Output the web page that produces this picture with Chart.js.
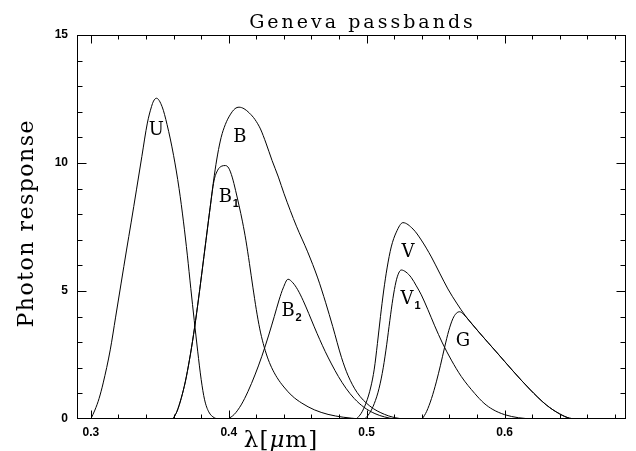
<!DOCTYPE html>
<html>
<head>
<meta charset="utf-8">
<title>Geneva passbands</title>
<script src="https://cdn.jsdelivr.net/npm/chart.js@4.4.1/dist/chart.umd.min.js"></script>
<style>
    html, body { margin: 0; padding: 0; background: #fff; }
    #wrap { width: 636px; height: 451px; position: relative; }
</style>
</head>
<body>
<div id="wrap"><canvas id="passbands-chart"></canvas></div>
<script>
// passband curves: wavelength (micron) vs photon response
var uX = [0.300, 0.303, 0.306, 0.309, 0.3141, 0.318, 0.322, 0.3259, 0.3292, 0.3331, 0.337, 0.341, 0.344, 0.3455, 0.3476, 0.3517, 0.3553, 0.3600, 0.3640, 0.3672, 0.3700, 0.3725, 0.3750, 0.3775, 0.3800, 0.3825, 0.3855, 0.3895, 0.3930];
var uY = [0, 0.35, 0.80, 1.41, 2.70, 3.98, 5.31, 6.60, 7.66, 8.95, 10.25, 11.56, 12.20, 12.42, 12.53, 12.20, 11.50, 10.30, 9.00, 7.70, 6.40, 5.10, 3.85, 2.65, 1.55, 0.75, 0.28, 0.05, 0];

var bX = [0.3596, 0.3625, 0.3655, 0.3685, 0.3715, 0.3745, 0.3775, 0.3805, 0.3835, 0.3865, 0.3895, 0.3920, 0.3945, 0.3975, 0.4010, 0.4045, 0.4075, 0.4111, 0.4150, 0.4190, 0.4230, 0.4270, 0.4314, 0.4360, 0.4401, 0.4491, 0.4572, 0.4645, 0.4703, 0.4754, 0.4817, 0.4864, 0.4930, 0.5022, 0.5130, 0.5239, 0.5312];
var bY = [0, 0.30, 0.80, 1.45, 2.30, 3.30, 4.45, 5.70, 6.98, 8.25, 9.50, 10.35, 11.00, 11.50, 11.88, 12.12, 12.18, 12.12, 11.95, 11.70, 11.33, 10.78, 10.10, 9.45, 8.80, 7.53, 6.53, 5.51, 4.54, 3.61, 2.41, 1.71, 1.04, 0.51, 0.18, 0.02, 0];

var b1X = [0.3596, 0.3625, 0.3655, 0.3685, 0.3715, 0.3745, 0.3775, 0.3805, 0.3835, 0.3865, 0.3893, 0.3920, 0.3950, 0.3976, 0.4000, 0.4025, 0.4050, 0.4075, 0.4100, 0.4125, 0.4150, 0.4175, 0.4200, 0.4225, 0.4250, 0.4280, 0.4310, 0.4350, 0.4400, 0.4460, 0.4530, 0.4620, 0.4720, 0.4830, 0.4950];
var b1Y = [0, 0.30, 0.80, 1.45, 2.30, 3.30, 4.45, 5.70, 6.98, 8.25, 9.30, 9.72, 9.88, 9.90, 9.80, 9.45, 8.92, 8.33, 7.70, 6.96, 6.08, 5.15, 4.27, 3.52, 2.95, 2.42, 2.02, 1.62, 1.25, 0.90, 0.62, 0.36, 0.18, 0.07, 0];

var b2X = [0.3995, 0.4040, 0.4090, 0.4140, 0.4190, 0.4240, 0.4290, 0.4330, 0.4365, 0.4395, 0.4430, 0.4465, 0.4500, 0.4540, 0.4580, 0.4620, 0.4660, 0.4700, 0.4745, 0.4795, 0.4850, 0.4910, 0.4980, 0.5060, 0.5130, 0.5200];
var b2Y = [0, 0.18, 0.55, 1.08, 1.72, 2.45, 3.28, 4.00, 4.65, 5.12, 5.46, 5.32, 5.05, 4.62, 4.12, 3.60, 3.10, 2.63, 2.15, 1.66, 1.20, 0.80, 0.46, 0.21, 0.08, 0];

var vX = [0.4925, 0.4960, 0.4995, 0.5030, 0.5055, 0.5078, 0.5100, 0.5123, 0.5148, 0.5178, 0.5215, 0.5263, 0.5336, 0.5396, 0.5469, 0.5529, 0.5589, 0.5652, 0.5717, 0.5819, 0.5940, 0.6060, 0.6181, 0.6302, 0.6399, 0.6471, 0.6529];
var vY = [0, 0.22, 0.62, 1.25, 1.95, 2.95, 4.00, 5.00, 5.90, 6.72, 7.30, 7.67, 7.42, 6.99, 6.33, 5.70, 5.08, 4.53, 4.02, 3.36, 2.62, 1.88, 1.17, 0.55, 0.20, 0.03, 0];

var v1X = [0.4986, 0.5020, 0.5055, 0.5090, 0.5120, 0.5145, 0.5168, 0.5190, 0.5212, 0.5232, 0.5251, 0.5285, 0.5324, 0.5360, 0.5396, 0.5444, 0.5493, 0.5549, 0.5614, 0.5686, 0.5783, 0.5850, 0.5915, 0.6000, 0.6100, 0.6200];
var v1Y = [0, 0.22, 0.60, 1.20, 2.00, 2.90, 3.85, 4.70, 5.35, 5.70, 5.82, 5.74, 5.52, 5.20, 4.85, 4.27, 3.64, 2.97, 2.30, 1.66, 1.00, 0.62, 0.37, 0.17, 0.05, 0];

var gX = [0.5403, 0.5435, 0.5470, 0.5505, 0.5535, 0.5565, 0.5595, 0.5625, 0.5650, 0.5674, 0.5700, 0.5725, 0.5760, 0.5819, 0.5940, 0.6060, 0.6181, 0.6302, 0.6399, 0.6471, 0.6529];
var gY = [0, 0.30, 0.80, 1.45, 2.10, 2.80, 3.45, 3.92, 4.13, 4.19, 4.10, 3.96, 3.74, 3.36, 2.62, 1.88, 1.17, 0.55, 0.20, 0.03, 0];

// curve labels (letter + subscript) placed in data units
var labelText = ['U', 'B', 'B', 'B', 'V', 'V', 'G'];
var labelSub = ['', '', '1', '2', '', '1', ''];
var labelX = [0.3476, 0.4080, 0.3976, 0.4430, 0.5300, 0.5292, 0.5698];
var labelY = [11.36, 11.07, 8.75, 4.28, 6.60, 4.75, 3.09];

var xTickValues = [0.3, 0.4, 0.5, 0.6];
var yTickValues = [0, 5, 10, 15];

var PassbandChart;

function toPoints(xs, ys) {
    var pts = [];
    for (var i = 0; i < xs.length; i++) {
        pts.push({ x: xs[i], y: ys[i] });
    }
    return pts;
}

function curve(name, xs, ys) {
    return {
        label: name,
        data: toPoints(xs, ys),
        borderColor: '#000',
        borderWidth: 1,
        pointRadius: 0,
        fill: false,
        cubicInterpolationMode: 'monotone'
    };
}

// width of a string drawn letter by letter with extra spacing
function spacedWidth(ctx, str, spacing) {
    var w = 0;
    for (var i = 0; i < str.length; i++) {
        w += ctx.measureText(str[i]).width;
    }
    return w + spacing * (str.length - 1);
}

function spacedText(ctx, str, x, y, spacing) {
    for (var i = 0; i < str.length; i++) {
        ctx.fillText(str[i], x, y);
        x += ctx.measureText(str[i]).width + spacing;
    }
}

var frameAndText = {
    id: 'frameAndText',
    afterDraw: function (chart) {
        var ctx = chart.ctx;
        var area = chart.chartArea;
        var xs = chart.scales.x;
        var ys = chart.scales.y;
        var l = Math.round(area.left) + 0.5;
        var r = Math.round(area.right) - 0.5;
        var t = Math.round(area.top) + 0.5;
        var b = Math.round(area.bottom) - 0.5;

        ctx.save();
        ctx.strokeStyle = '#000';
        ctx.fillStyle = '#000';
        ctx.lineWidth = 1;
        ctx.strokeRect(l, t, r - l, b - t);

        // inward ticks on all four sides
        ctx.beginPath();
        for (var k = Math.ceil(xs.min * 50 - 1e-6); k <= Math.floor(xs.max * 50 + 1e-6); k++) {
            var px = Math.round(xs.getPixelForValue(k / 50)) + 0.5;
            var len = (k % 5 === 0) ? 8 : 4;
            ctx.moveTo(px, b); ctx.lineTo(px, b - len);
            ctx.moveTo(px, t); ctx.lineTo(px, t + len);
        }
        for (var j = 1; j < 15; j++) {
            var py = Math.round(ys.getPixelForValue(j)) + 0.5;
            var ylen = (j % 5 === 0) ? 9 : 5;
            ctx.moveTo(l, py); ctx.lineTo(l + ylen, py);
            ctx.moveTo(r, py); ctx.lineTo(r - ylen, py);
        }
        ctx.stroke();

        // curve labels
        ctx.textBaseline = 'alphabetic';
        for (var i = 0; i < labelText.length; i++) {
            var cx = xs.getPixelForValue(labelX[i]);
            var cy = ys.getPixelForValue(labelY[i]);
            ctx.font = '18px "DejaVu Serif"';
            ctx.textAlign = 'center';
            ctx.fillText(labelText[i], cx, cy + 6.5);
            if (labelSub[i]) {
                ctx.font = 'bold 11px "Liberation Sans"';
                ctx.fillText(labelSub[i], cx + 10.5, cy + 12);
            }
        }

        // title
        ctx.textAlign = 'left';
        ctx.font = '19px "DejaVu Serif"';
        var title = 'Geneva passbands';
        var tw = spacedWidth(ctx, title, 3);
        spacedText(ctx, title, 361 - tw / 2, 28, 3);

        // y axis title, rotated
        ctx.save();
        ctx.translate(33, 224);
        ctx.rotate(-Math.PI / 2);
        ctx.font = '22px "DejaVu Serif"';
        var ytitle = 'Photon response';
        var yw = spacedWidth(ctx, ytitle, 1.5);
        spacedText(ctx, ytitle, -yw / 2, 0, 1.5);
        ctx.restore();

        // x axis title: lambda [mu m]
        var parts = ['\u03bb', '[', '\u03bc', 'm', ']'];
        var italic = [false, false, true, false, false];
        var widths = [];
        var total = 0;
        for (var p = 0; p < parts.length; p++) {
            ctx.font = (italic[p] ? 'italic ' : '') + '23px "DejaVu Serif"';
            widths.push(ctx.measureText(parts[p]).width);
            total += widths[p] + 1;
        }
        var sx = 281 - total / 2;
        for (var q = 0; q < parts.length; q++) {
            ctx.font = (italic[q] ? 'italic ' : '') + '23px "DejaVu Serif"';
            ctx.fillText(parts[q], sx, 447);
            sx += widths[q] + 1;
        }
        ctx.restore();
    }
};

function LoadPassbandChart() {
    var ctx = document.getElementById('passbands-chart');
    if (PassbandChart) {
        PassbandChart.destroy();
    }
    PassbandChart = new Chart(ctx, {
        type: 'line',
        data: {
            datasets: [
                curve('U', uX, uY),
                curve('B', bX, bY),
                curve('B1', b1X, b1Y),
                curve('B2', b2X, b2Y),
                curve('V', vX, vY),
                curve('V1', v1X, v1Y),
                curve('G', gX, gY)
            ]
        },
        plugins: [frameAndText],
        options: {
            responsive: true,
            maintainAspectRatio: false,
            animation: false,
            layout: {
                padding: { top: 35, right: 10, left: 0, bottom: 0 }
            },
            plugins: {
                legend: { display: false },
                tooltip: { enabled: false }
            },
            scales: {
                x: {
                    type: 'linear',
                    min: 0.29,
                    max: 0.688,
                    grid: { display: false, drawTicks: false },
                    border: { display: false },
                    afterFit: function (scale) { scale.height = 32; },
                    afterBuildTicks: function (scale) {
                        scale.ticks = xTickValues.map(function (v) { return { value: v }; });
                    },
                    ticks: {
                        color: '#000',
                        padding: 6,
                        maxRotation: 0,
                        font: { family: 'Liberation Sans', size: 12, weight: 'bold' },
                        callback: function (v) { return v.toFixed(1); }
                    }
                },
                y: {
                    type: 'linear',
                    min: 0,
                    max: 15,
                    grid: { display: false, drawTicks: false },
                    border: { display: false },
                    afterFit: function (scale) { scale.width = 77; },
                    afterBuildTicks: function (scale) {
                        scale.ticks = yTickValues.map(function (v) { return { value: v }; });
                    },
                    ticks: {
                        color: '#000',
                        padding: 9,
                        font: { family: 'Liberation Sans', size: 12, weight: 'bold' }
                    }
                }
            }
        }
    });
}

LoadPassbandChart();
</script>
</body>
</html>
